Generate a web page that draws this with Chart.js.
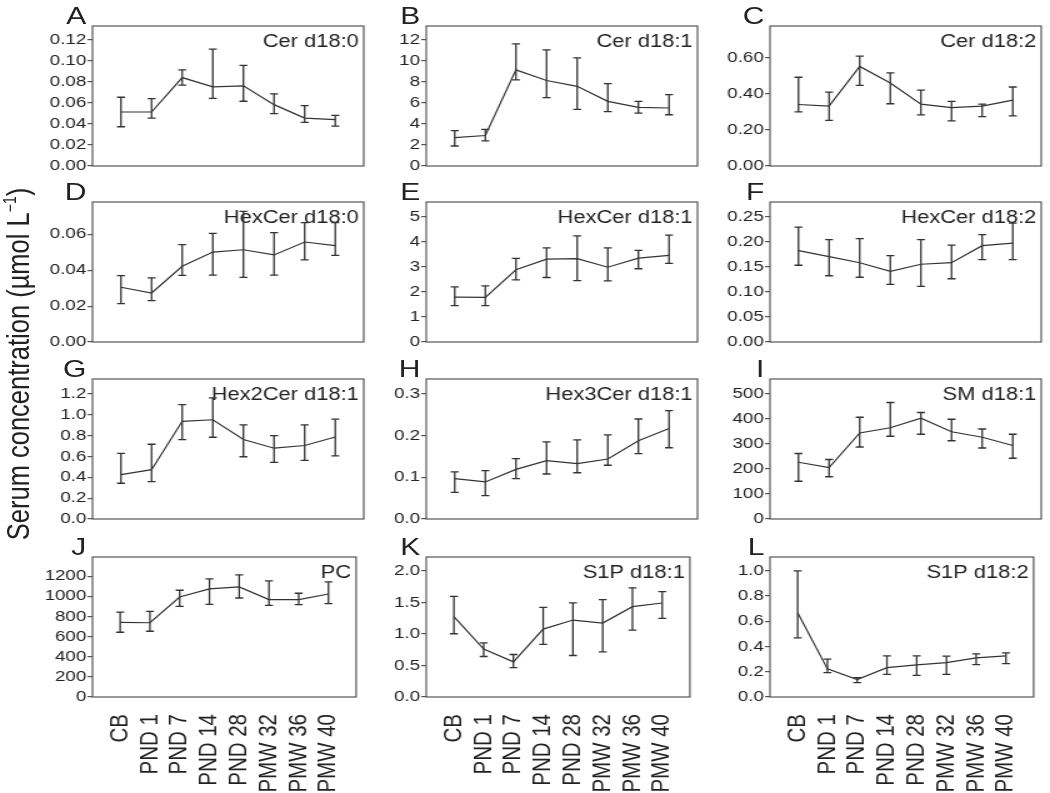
<!DOCTYPE html>
<html>
<head>
<meta charset="utf-8">
<script src="https://cdn.jsdelivr.net/npm/chart.js@4.4.0/dist/chart.umd.min.js"></script>
<style>
  body { margin: 0; background: #fff; }
  #wrap { position: absolute; left: 0; top: 0; width: 840px; height: 793px;
          transform: scaleX(1.25); transform-origin: 0 0;
          font-family: "Liberation Sans", Arial, sans-serif; color: #222; }
  #wrap canvas { position: absolute; }
  .letter { position: absolute; width: 30px; text-align: right; font-size: 24px; line-height: 24px; }
  #ytitle { position: absolute; width: 460px; height: 28px; line-height: 28px; text-align: center;
            font-size: 25.5px; white-space: nowrap; transform: rotate(-90deg); }
</style>
</head>
<body>
<div id="wrap">
  <div id="ytitle">Serum concentration (&micro;mol L<sup style="font-size:14px;vertical-align:10px;line-height:0">&minus;1</sup>)</div>
</div>
<script>
var categories = ['CB', 'PND 1', 'PND 7', 'PND 14', 'PND 28', 'PMW 32', 'PMW 36', 'PMW 40'];
var panelLetters = ['A', 'B', 'C', 'D', 'E', 'F', 'G', 'H', 'I', 'J', 'K', 'L'];
var panelNames = ['Cer d18:0', 'Cer d18:1', 'Cer d18:2', 'HexCer d18:0', 'HexCer d18:1', 'HexCer d18:2',
                  'Hex2Cer d18:1', 'Hex3Cer d18:1', 'SM d18:1', 'PC', 'S1P d18:1', 'S1P d18:2'];

// mean values per panel
var means = [
  [0.0513, 0.0513, 0.084, 0.0752, 0.0761, 0.0583, 0.0455, 0.044],
  [2.7, 2.9, 9.13, 8.12, 7.57, 6.14, 5.57, 5.51],
  [0.341, 0.332, 0.552, 0.46, 0.343, 0.324, 0.332, 0.365],
  [0.0305, 0.0273, 0.0422, 0.0501, 0.0514, 0.0485, 0.0557, 0.0537],
  [1.79, 1.78, 2.88, 3.30, 3.32, 2.98, 3.34, 3.45],
  [0.182, 0.170, 0.158, 0.141, 0.155, 0.158, 0.192, 0.197],
  [0.425, 0.473, 0.937, 0.952, 0.762, 0.679, 0.705, 0.787],
  [0.097, 0.089, 0.119, 0.140, 0.133, 0.144, 0.188, 0.217],
  [227, 206, 344, 365, 403, 349, 327, 294],
  [740, 737, 993, 1073, 1093, 967, 967, 1023],
  [1.273, 0.759, 0.557, 1.077, 1.22, 1.172, 1.432, 1.491],
  [0.668, 0.223, 0.138, 0.233, 0.255, 0.273, 0.31, 0.326]
];
// top of error bars
var uppers = [
  [0.0653, 0.064, 0.0914, 0.111, 0.0955, 0.0685, 0.0573, 0.0481],
  [3.37, 3.47, 11.6, 11.04, 10.28, 7.83, 6.14, 6.78],
  [0.492, 0.41, 0.609, 0.516, 0.421, 0.358, 0.343, 0.438],
  [0.037, 0.0357, 0.0542, 0.0605, 0.0728, 0.0609, 0.0665, 0.0665],
  [2.2, 2.24, 3.33, 3.75, 4.23, 3.75, 3.65, 4.26],
  [0.229, 0.204, 0.206, 0.172, 0.204, 0.193, 0.214, 0.237],
  [0.629, 0.717, 1.098, 1.162, 0.902, 0.8, 0.902, 0.959],
  [0.113, 0.116, 0.145, 0.185, 0.19, 0.202, 0.240, 0.260],
  [262, 238, 407, 466, 426, 399, 360, 339],
  [843, 850, 1060, 1173, 1213, 1153, 1030, 1143],
  [1.597, 0.859, 0.674, 1.422, 1.491, 1.544, 1.73, 1.671],
  [1.0, 0.3, 0.154, 0.326, 0.326, 0.324, 0.342, 0.35]
];
// bottom of error bars
var lowers = [
  [0.0373, 0.0455, 0.0768, 0.0643, 0.0615, 0.0497, 0.0414, 0.0379],
  [1.9, 2.39, 8.18, 6.49, 5.38, 5.16, 5.03, 4.87],
  [0.300, 0.253, 0.447, 0.345, 0.283, 0.25, 0.274, 0.278],
  [0.0214, 0.023, 0.0371, 0.0373, 0.036, 0.0373, 0.0457, 0.0483],
  [1.45, 1.45, 2.48, 2.57, 2.45, 2.44, 2.92, 3.13],
  [0.153, 0.132, 0.129, 0.115, 0.111, 0.126, 0.164, 0.164],
  [0.343, 0.359, 0.762, 0.784, 0.597, 0.543, 0.562, 0.606],
  [0.064, 0.056, 0.097, 0.108, 0.111, 0.129, 0.157, 0.171],
  [151, 169, 288, 331, 339, 313, 284, 243],
  [643, 653, 900, 920, 983, 910, 917, 927],
  [1.003, 0.642, 0.467, 0.833, 0.658, 0.716, 1.061, 1.247],
  [0.469, 0.194, 0.114, 0.18, 0.172, 0.18, 0.257, 0.265]
];
var yMax = [0.133, 13.3, 0.776, 0.078, 5.58, 0.279, 1.343, 0.336, 560, 1390, 2.22, 1.11];
var yTicks = [
  [0, 0.02, 0.04, 0.06, 0.08, 0.10, 0.12],
  [0, 2, 4, 6, 8, 10, 12],
  [0, 0.2, 0.4, 0.6],
  [0, 0.02, 0.04, 0.06],
  [0, 1, 2, 3, 4, 5],
  [0, 0.05, 0.10, 0.15, 0.20, 0.25],
  [0, 0.2, 0.4, 0.6, 0.8, 1.0, 1.2],
  [0, 0.1, 0.2, 0.3],
  [0, 100, 200, 300, 400, 500],
  [0, 200, 400, 600, 800, 1000, 1200],
  [0, 0.5, 1.0, 1.5, 2.0],
  [0, 0.2, 0.4, 0.6, 0.8, 1.0]
];
var yDecimals = [2, 0, 2, 2, 0, 2, 1, 1, 0, 0, 1, 1];

var FONT = '"Liberation Sans", Arial, sans-serif';
var colLeft = [73.6, 340.8, 616];
var rowTop = [26, 202, 379, 557];
var boxW = 217, boxH = 140;
var padL = 60, padT = 14, padR = 6;

var wrap = document.getElementById('wrap');

var yt = document.getElementById('ytitle');
yt.style.left = (14.4 - 230) + 'px';
yt.style.top = (364 - 14) + 'px';

var errorBars = {
  id: 'errorBars',
  afterDatasetsDraw: function (chart) {
    var p = chart.options.panel;
    var xs = chart.scales.x, ys = chart.scales.y;
    var ctx = chart.ctx;
    ctx.save();
    ctx.strokeStyle = '#333';
    ctx.lineWidth = 1.3;
    for (var i = 0; i < means[p].length; i++) {
      var x = xs.getPixelForValue(i);
      var yHi = ys.getPixelForValue(uppers[p][i]);
      var yLo = ys.getPixelForValue(lowers[p][i]);
      ctx.beginPath();
      ctx.moveTo(x, yHi); ctx.lineTo(x, yLo);
      ctx.moveTo(x - 3.2, yHi); ctx.lineTo(x + 3.2, yHi);
      ctx.moveTo(x - 3.2, yLo); ctx.lineTo(x + 3.2, yLo);
      ctx.stroke();
    }
    ctx.restore();
  }
};

var frame = {
  id: 'frame',
  beforeDatasetsDraw: function (chart) {
    var a = chart.chartArea, ctx = chart.ctx;
    ctx.save();
    ctx.fillStyle = '#222';
    ctx.font = '17.5px ' + FONT;
    ctx.textAlign = 'right';
    ctx.textBaseline = 'alphabetic';
    ctx.fillText(panelNames[chart.options.panel], a.right - 4, a.top + 21);
    ctx.restore();
  },
  afterDraw: function (chart) {
    var a = chart.chartArea, ctx = chart.ctx;
    ctx.save();
    ctx.strokeStyle = '#555';
    ctx.lineWidth = 1.2;
    ctx.strokeRect(a.left, a.top, a.right - a.left, a.bottom - a.top);
    ctx.restore();
  }
};

for (var p = 0; p < 12; p++) {
  (function (p) {
    var col = p % 3, row = Math.floor(p / 3);
    var isBottom = row === 3;
    var cv = document.createElement('canvas');
    var w = padL + boxW + padR;
    var h = padT + boxH + (isBottom ? 110 : 14);
    cv.width = w; cv.height = h;
    cv.style.left = (colLeft[col] - padL) + 'px';
    cv.style.top = (rowTop[row] - padT) + 'px';
    wrap.appendChild(cv);

    var lt = document.createElement('div');
    lt.className = 'letter';
    lt.textContent = panelLetters[p];
    lt.style.left = (colLeft[col] - 4.5 - 30) + 'px';
    lt.style.top = (rowTop[row] - 22.5) + 'px';
    wrap.appendChild(lt);

    new Chart(cv, {
      type: 'line',
      data: {
        datasets: [{
          data: means[p].map(function (v, i) { return { x: i, y: v }; }),
          borderColor: '#333',
          borderWidth: 1.2,
          pointRadius: 0,
          tension: 0,
          fill: false
        }]
      },
      options: {
        panel: p,
        responsive: false,
        animation: false,
        events: [],
        layout: { padding: { left: 0, top: padT, right: padR, bottom: isBottom ? 0 : 14 } },
        plugins: { legend: { display: false }, tooltip: { enabled: false } },
        scales: {
          x: {
            type: 'linear', min: -0.93, max: 7.93,
            display: isBottom,
            grid: { display: false },
            border: { display: false },
            afterBuildTicks: function (s) { s.ticks = categories.map(function (c, i) { return { value: i }; }); },
            afterFit: function (s) { s.height = isBottom ? 110 : 0; },
            ticks: {
              autoSkip: false, minRotation: 90, maxRotation: 90, padding: 9,
              color: '#222', font: { family: FONT, size: 20.5 },
              callback: function (v, i) { return categories[i]; }
            }
          },
          y: {
            min: 0, max: yMax[p],
            afterBuildTicks: function (s) { s.ticks = yTicks[p].map(function (v) { return { value: v }; }); },
            afterFit: function (s) { s.width = padL; },
            grid: { drawOnChartArea: false, drawTicks: true, tickLength: 4, color: '#555', lineWidth: 1.2 },
            border: { display: false },
            ticks: {
              padding: 1, color: '#222', font: { family: FONT, size: 15 },
              callback: function (v) { return v.toFixed(yDecimals[p]); }
            }
          }
        }
      },
      plugins: [errorBars, frame]
    });
  })(p);
}
</script>
</body>
</html>
